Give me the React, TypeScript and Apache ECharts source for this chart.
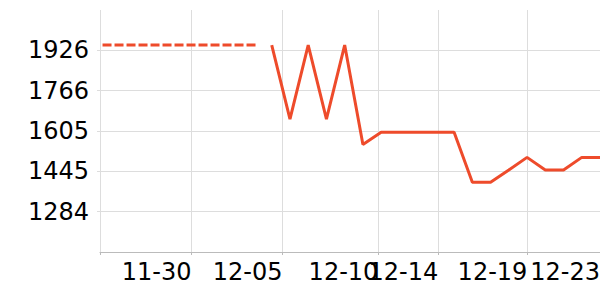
import React, { useEffect, useRef } from 'react';
import * as echarts from 'echarts';

// Solid series: daily values
const solidDates = [
  '2024-12-05', '2024-12-06', '2024-12-07', '2024-12-08', '2024-12-09',
  '2024-12-10', '2024-12-11', '2024-12-12', '2024-12-13', '2024-12-14',
  '2024-12-15', '2024-12-16', '2024-12-17', '2024-12-18', '2024-12-19',
  '2024-12-20', '2024-12-21', '2024-12-22', '2024-12-23',
];
const solidValues = [
  1947, 1652, 1947, 1652, 1947,
  1551, 1600, 1600, 1600, 1600,
  1600, 1401, 1401, 1450, 1500,
  1450, 1450, 1500, 1500,
];

// Dashed reference segment (drawn right to left)
const dashedDates = ['2024-12-04 02:40', '2024-11-25 14:00'];
const dashedValues = [1947, 1947];

// X axis range and tick positions
const xMinDate = '2024-11-25 14:00';
const xMaxDate = '2024-12-23 00:00';
const xTickDates = [
  '2024-11-30 14:30', '2024-12-05 14:15', '2024-12-10 20:20',
  '2024-12-14 03:15', '2024-12-19 00:25', '2024-12-23 00:00',
];

// Y axis
const yMin = 1123.5;
const yMax = 2086.5;
const yInterval = 160.5;

const ts = (s: string) => +echarts.time.parse(s);

export default function App() {
  const ref = useRef<HTMLDivElement>(null);
  useEffect(() => {
    if (!ref.current) return;
    const chart = echarts.init(ref.current, undefined, { renderer: 'svg' });
    const minTs = ts(xMinDate);
    const maxTs = ts(xMaxDate);
    const tickTs = xTickDates.map(ts);
    const color = '#EE4B2B';
    const font = 'DejaVu Sans, sans-serif';
    chart.setOption({
      animation: false,
      grid: { left: 100, right: 0, top: 10, bottom: 48, containLabel: false, outerBoundsMode: 'none' },
      xAxis: {
        type: 'value',
        min: minTs,
        max: maxTs,
        axisLine: { show: true, lineStyle: { color: '#bbb', width: 1 } },
        axisTick: { show: true, length: 3, lineStyle: { color: '#bbb' }, customValues: [minTs, ...tickTs] },
        axisLabel: {
          customValues: tickTs,
          formatter: (v: number) => echarts.time.format(v, '{MM}-{dd}', false),
          align: 'right',
          color: '#000',
          fontSize: 24,
          fontFamily: font,
          margin: 8,
          hideOverlap: false,
        },
        splitLine: { show: true, lineStyle: { color: '#ddd', width: 1 } },
      },
      yAxis: {
        type: 'value',
        min: yMin,
        max: yMax,
        interval: yInterval,
        axisLine: { show: false },
        axisTick: { show: true, length: 3, lineStyle: { color: '#ddd' } },
        axisLabel: {
          formatter: (v: number) => String(Math.round(v)),
          showMinLabel: false,
          showMaxLabel: false,
          color: '#000',
          fontSize: 24,
          fontFamily: font,
          margin: 11,
        },
        splitLine: { show: true, showMaxLine: false, showMinLine: false, lineStyle: { color: '#ddd', width: 1 } },
      },
      series: [
        {
          type: 'line',
          data: dashedDates.map((d, i) => [ts(d), dashedValues[i]]),
          showSymbol: false,
          lineStyle: { color, width: 3, type: [9, 3], cap: 'butt' },
          z: 3,
        },
        {
          type: 'line',
          data: solidDates.map((d, i) => [ts(d), solidValues[i]]),
          showSymbol: false,
          lineStyle: { color, width: 3 },
          z: 3,
        },
      ],
    });
    return () => chart.dispose();
  }, []);
  return <div ref={ref} style={{ width: 600, height: 300, position: 'absolute', left: 0, top: 0 }} />;
}
